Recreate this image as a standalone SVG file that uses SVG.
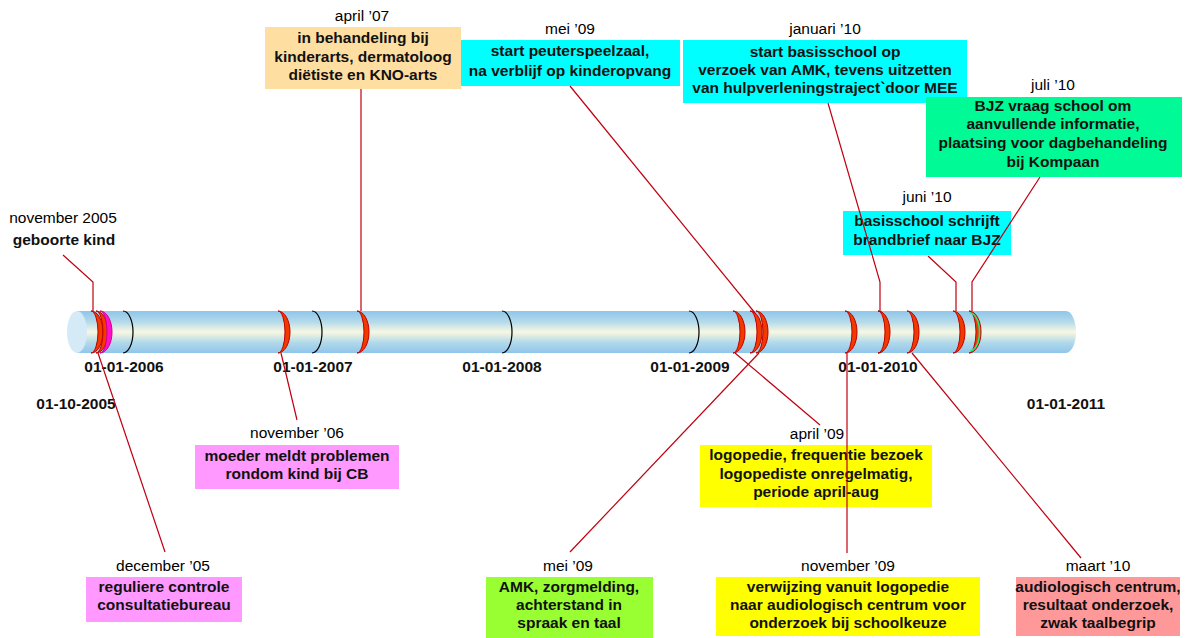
<svg xmlns="http://www.w3.org/2000/svg" width="1200" height="638" viewBox="0 0 1200 638">
<defs>
<linearGradient id="bar" x1="0" y1="0" x2="0" y2="1">
<stop offset="0" stop-color="#8fc6ea"/>
<stop offset="0.25" stop-color="#b2d9ea"/>
<stop offset="0.5" stop-color="#f8f8e2"/>
<stop offset="0.75" stop-color="#b2d9ea"/>
<stop offset="1" stop-color="#8fc6ea"/>
</linearGradient>
</defs>
<style>
.d{font-family:"Liberation Sans",Arial,sans-serif;font-size:15.5px;fill:#000;text-anchor:middle}
.b{font-family:"Liberation Sans",Arial,sans-serif;font-size:15.5px;font-weight:bold;fill:#111;text-anchor:middle}
.c{fill:none;stroke:#c00010;stroke-width:1.2}
.yr{fill:none;stroke:#000;stroke-width:1.2}
.ev{fill:#f03a00;stroke:#c00000;stroke-width:1}
</style>
<rect width="1200" height="638" fill="#fff"/>

<g id="timeline">
<path d="M77,311 H1066 A10,21 0 0 1 1066,353 H77 Z" fill="url(#bar)"/>
<ellipse cx="77" cy="332" rx="10" ry="21" fill="#d5eaf7"/>
<g id="year-marks">
<path class="yr" d="M123,311 A10,21 0 0 1 123,353"/>
<path class="yr" d="M312,311 A10,21 0 0 1 312,353"/>
<path class="yr" d="M502,311 A10,21 0 0 1 502,353"/>
<path class="yr" d="M689,311 A10,21 0 0 1 689,353"/>
<path class="yr" d="M878,311 A10,21 0 0 1 878,353"/>
</g>
<g id="event-marks">
<path class="ev" d="M91,311 A12,21 0 0 1 91,353 A7,21 0 0 0 91,311 Z"/>
<path class="ev" d="M96,311 A12,21 0 0 1 96,353 A7,21 0 0 0 96,311 Z"/>
<path d="M100,311 A12,21 0 0 1 100,353 A7,21 0 0 0 100,311 Z" fill="#ff10c8" stroke="#d0008a" stroke-width="1"/>
<path class="ev" d="M278,311 A12,21 0 0 1 278,353 A7,21 0 0 0 278,311 Z"/>
<path class="ev" d="M357,311 A12,21 0 0 1 357,353 A7,21 0 0 0 357,311 Z"/>
<path class="ev" d="M733,311 A12,21 0 0 1 733,353 A7,21 0 0 0 733,311 Z"/>
<path class="ev" d="M750,311 A12,21 0 0 1 750,353 A7,21 0 0 0 750,311 Z"/>
<path class="ev" d="M756,311 A12,21 0 0 1 756,353 A7,21 0 0 0 756,311 Z"/>
<path class="ev" d="M845,311 A12,21 0 0 1 845,353 A7,21 0 0 0 845,311 Z"/>
<path class="ev" d="M878,311 A12,21 0 0 1 878,353 A7,21 0 0 0 878,311 Z"/>
<path class="ev" d="M907,311 A12,21 0 0 1 907,353 A7,21 0 0 0 907,311 Z"/>
<path class="ev" d="M953,311 A12,21 0 0 1 953,353 A7,21 0 0 0 953,311 Z"/>
<path class="ev" d="M969,311 A12,21 0 0 1 969,353 A7,21 0 0 0 969,311 Z"/>
<path d="M970,313 A9.5,19 0 0 1 970,351" fill="none" stroke="#1ee87a" stroke-width="1.6"/>
</g>
<g id="axis-labels">
<text class="b" x="124" y="372">01-01-2006</text>
<text class="b" x="313" y="372">01-01-2007</text>
<text class="b" x="502" y="372">01-01-2008</text>
<text class="b" x="690" y="372">01-01-2009</text>
<text class="b" x="878" y="372">01-01-2010</text>
<text class="b" x="76" y="409">01-10-2005</text>
<text class="b" x="1066" y="409">01-01-2011</text>
</g>
</g>

<g id="n-nov05">
<text class="d" x="63" y="223">november 2005</text>
<text class="b" x="64" y="245">geboorte kind</text>
</g>

<g id="n-apr07">
<text class="d" x="362" y="21">april ’07</text>
<rect x="265" y="27" width="196" height="62" fill="#ffdea2"/>
<text class="b" x="363" y="43">in behandeling bij</text>
<text class="b" x="363" y="62">kinderarts, dermatoloog</text>
<text class="b" x="363" y="80">diëtiste en KNO-arts</text>
</g>

<g id="n-mei09-top">
<text class="d" x="570" y="34">mei ’09</text>
<rect x="461" y="40" width="219" height="46" fill="#00ffff"/>
<text class="b" x="570" y="56">start peuterspeelzaal,</text>
<text class="b" x="570" y="76">na verblijf op kinderopvang</text>
</g>

<g id="n-jan10">
<text class="d" x="825" y="34">januari ’10</text>
<rect x="683" y="40" width="284" height="63" fill="#00ffff"/>
<text class="b" x="825" y="57">start basisschool op</text>
<text class="b" x="825" y="75">verzoek van AMK, tevens uitzetten</text>
<text class="b" x="825" y="93">van hulpverleningstraject`door MEE</text>
</g>

<g id="n-jul10">
<text class="d" x="1053" y="90">juli ’10</text>
<rect x="926" y="97" width="256" height="80" fill="#00fa96"/>
<text class="b" x="1053" y="111">BJZ vraag school om</text>
<text class="b" x="1053" y="129">aanvullende informatie,</text>
<text class="b" x="1053" y="148">plaatsing voor dagbehandeling</text>
<text class="b" x="1053" y="167">bij Kompaan</text>
</g>

<g id="n-jun10">
<text class="d" x="927" y="202">juni ’10</text>
<rect x="843" y="211" width="168" height="44" fill="#00ffff"/>
<text class="b" x="927" y="226">basisschool schrijft</text>
<text class="b" x="927" y="245">brandbrief naar BJZ</text>
</g>

<g id="n-nov06">
<text class="d" x="297" y="438">november ’06</text>
<rect x="195" y="445" width="204" height="44" fill="#ff99ff"/>
<text class="b" x="297" y="461">moeder meldt problemen</text>
<text class="b" x="297" y="479">rondom kind bij CB</text>
</g>

<g id="n-dec05">
<text class="d" x="163" y="571">december ’05</text>
<rect x="86" y="577" width="156" height="45" fill="#ff99ff"/>
<text class="b" x="164" y="592">reguliere controle</text>
<text class="b" x="164" y="610">consultatiebureau</text>
</g>

<g id="n-mei09-bottom">
<text class="d" x="568" y="571">mei ’09</text>
<rect x="486" y="577" width="167" height="61" fill="#99ff33"/>
<text class="b" x="569" y="592">AMK, zorgmelding,</text>
<text class="b" x="569" y="610">achterstand in</text>
<text class="b" x="569" y="628">spraak en taal</text>
</g>

<g id="n-apr09">
<text class="d" x="817" y="439">april ’09</text>
<rect x="700" y="445" width="232" height="62" fill="#ffff00"/>
<text class="b" x="816" y="460">logopedie, frequentie bezoek</text>
<text class="b" x="816" y="479">logopediste onregelmatig,</text>
<text class="b" x="816" y="497">periode april-aug</text>
</g>

<g id="n-nov09">
<text class="d" x="848" y="571">november ’09</text>
<rect x="716" y="577" width="264" height="59" fill="#ffff00"/>
<text class="b" x="848" y="592">verwijzing vanuit logopedie</text>
<text class="b" x="848" y="610">naar audiologisch centrum voor</text>
<text class="b" x="848" y="628">onderzoek bij schoolkeuze</text>
</g>

<g id="n-mrt10">
<text class="d" x="1098" y="571">maart ’10</text>
<rect x="1016" y="577" width="164" height="59" fill="#ff9999"/>
<text class="b" x="1098" y="592">audiologisch centrum,</text>
<text class="b" x="1098" y="610">resultaat onderzoek,</text>
<text class="b" x="1098" y="628">zwak taalbegrip</text>
</g>

<g id="connectors">
<polyline class="c" points="63,255 93,282 93,311"/>
<line class="c" x1="98" y1="353" x2="165" y2="552"/>
<line class="c" x1="281" y1="353" x2="297" y2="420"/>
<line class="c" x1="361" y1="89" x2="361" y2="311"/>
<line class="c" x1="570" y1="86" x2="755" y2="313"/>
<line class="c" x1="735" y1="353" x2="820" y2="425"/>
<line class="c" x1="759" y1="353" x2="570" y2="552"/>
<line class="c" x1="847" y1="353" x2="847" y2="553"/>
<polyline class="c" points="828,103 880,282 880,311"/>
<line class="c" x1="912" y1="353" x2="1081" y2="558"/>
<polyline class="c" points="928,256 956,282 956,311"/>
<polyline class="c" points="1040,177 972,282 972,311"/>
</g>
</svg>
